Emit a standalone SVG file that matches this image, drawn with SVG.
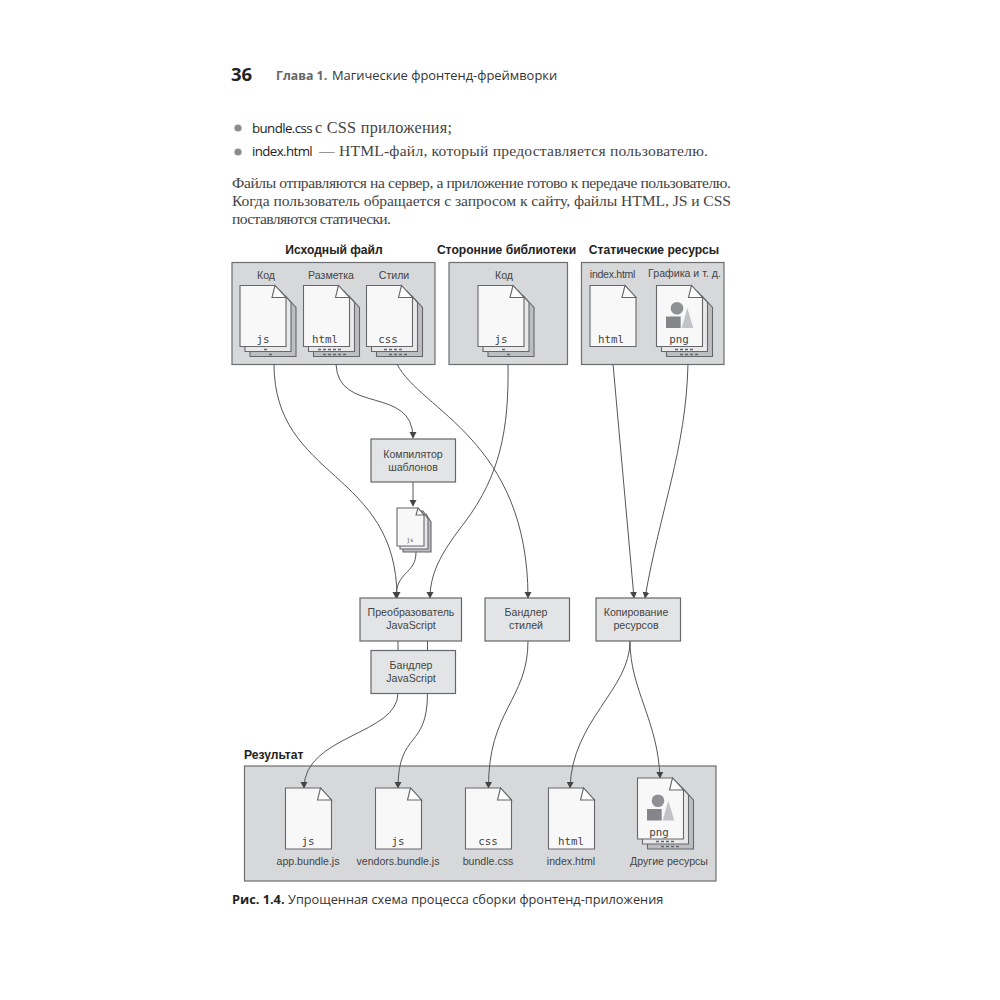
<svg xmlns="http://www.w3.org/2000/svg" xmlns:xlink="http://www.w3.org/1999/xlink" width="1000" height="1000" viewBox="0 0 1000 1000">
<style>
text{font-family:"Liberation Sans",Arial,sans-serif;fill:#333}
.panel{fill:#d7d8da;stroke:#6d6e70;stroke-width:1.2}
.box{fill:#e3e4e5;stroke:#66676a;stroke-width:1.2}
.lbl{font-size:10.6px;text-anchor:middle;fill:#444}
.head{font-size:12.1px;font-weight:700;text-anchor:middle;fill:#222}
text.mono{font-family:"DejaVu Sans Mono","Liberation Mono",monospace;font-size:10.8px;text-anchor:middle;fill:#444}
.tick{fill:none;stroke:#66676a;stroke-width:1.5;stroke-dasharray:3 2}
.conn{fill:none;stroke:#55565a;stroke-width:1;marker-end:url(#a)}
.plain{fill:none;stroke:#55565a;stroke-width:1}
text.serif{font-family:"Liberation Serif",serif;font-size:15.6px;fill:#444}
text.os{font-family:"Open Sans","Noto Sans",sans-serif}
.f{fill:#f8f8f9;stroke:#66676a;stroke-width:1.1}
.b{fill:#bdbec1;stroke:#66676a;stroke-width:1.1}
.m{fill:#e9e9ea;stroke:#66676a;stroke-width:1.1}
.fold{fill:#fff;stroke:#66676a;stroke-width:1.1}
</style>
<defs>
<marker id="a" markerWidth="7" markerHeight="8" refX="6" refY="4" orient="auto" markerUnits="userSpaceOnUse"><path d="M0 .5L6.500 4L0 7.500Z" fill="#444"/></marker>
<g id="sheet"><path class="f" d="M0 0H35L46 12V61H0Z"/><path class="fold" d="M35 0L46 12H32Z"/></g>
<g id="stack">
<path class="b" d="M10 10H45L56 22V71H10Z"/>
<path class="m" d="M5 5H40L51 17V66H5Z"/>
<use xlink:href="#sheet"/>
</g>
<g id="shapes"><circle cx="20.500" cy="22.800" r="6.300" fill="#8f9094"/><rect x="9.500" y="31" width="14.700" height="11.500" fill="#85868a"/><path d="M25.200 42.500H36.800L30.800 22.500Z" fill="#c2c3c6"/></g>
</defs>

<g id="page-header">
<text class="os" x="231" y="81" font-size="18.5" font-weight="700" style="fill:#222">36</text>
<text class="os" x="276" y="80" font-size="12.300" font-weight="700" style="fill:#666">Глава 1.</text>
<text class="os" x="332" y="80" font-size="12.900" style="fill:#333">Магические фронтенд-фреймворки</text>
</g>
<g id="body-text">
<circle cx="238" cy="128" r="3.600" fill="#8a8b8e"/>
<circle cx="238" cy="152" r="3.600" fill="#8a8b8e"/>
<text class="os" x="252" y="133" style="font-size:13.300px;fill:#222;letter-spacing:-.6px">bundle.css</text>
<text class="serif" x="315" y="133" textLength="137" lengthAdjust="spacing" style="font-size:16.200px">с CSS приложения;</text>
<text class="os" x="252" y="156" style="font-size:13.300px;fill:#222;letter-spacing:-.6px">index.html</text>
<text class="serif" x="319" y="156" textLength="389" lengthAdjust="spacing">— HTML-файл, который предоставляется пользователю.</text>
<text class="serif" x="232" y="188" textLength="499" lengthAdjust="spacing">Файлы отправляются на сервер, а приложение готово к передаче пользователю.</text>
<text class="serif" x="232" y="206" textLength="499" lengthAdjust="spacing">Когда пользователь обращается с запросом к сайту, файлы HTML, JS и CSS</text>
<text class="serif" x="232" y="224" textLength="159" lengthAdjust="spacing">поставляются статически.</text>
</g>

<g id="panel-source">
<text class="head" x="334" y="254">Исходный файл</text>
<rect class="panel" x="232" y="262.500" width="203" height="102"/>
<text class="lbl" x="266" y="279">Код</text><text class="lbl" x="331" y="279">Разметка</text><text class="lbl" x="394" y="279">Стили</text>
<g id="src-js"><use xlink:href="#stack" x="240" y="285.500"/><path class="tick" d="M264 349.500h5M269 354.500h5"/><text class="mono" x="263" y="343">js</text></g>
<g id="src-html"><use xlink:href="#stack" x="303.500" y="285.500"/><path class="tick" d="M318 349.500h24M323 354.500h24"/><text class="mono" x="325" y="343">html</text></g>
<g id="src-css"><use xlink:href="#stack" x="366.500" y="285.500"/><path class="tick" d="M384 349.500h18M389 354.500h18"/><text class="mono" x="388" y="343">css</text></g>
</g>
<g id="panel-vendors">
<text class="head" x="506.500" y="254">Сторонние библиотеки</text>
<rect class="panel" x="449" y="262.500" width="118.500" height="102"/>
<text class="lbl" x="504" y="279">Код</text>
<use xlink:href="#stack" x="478" y="285.500"/><path class="tick" d="M502 349.500h5M507 354.500h5"/><text class="mono" x="501" y="343">js</text>
</g>
<g id="panel-static">
<text class="head" x="654" y="254">Статические ресурсы</text>
<rect class="panel" x="581.500" y="262.500" width="142.500" height="102"/>
<text class="lbl" x="612.500" y="278" style="letter-spacing:-.3px">index.html</text><text class="lbl" x="684.500" y="277">Графика и т. д.</text>
<use xlink:href="#sheet" x="590" y="285.500"/><text class="mono" x="611" y="343">html</text>
<use xlink:href="#stack" x="656.500" y="285.500"/><path class="tick" d="M675 349.500h18M680 354.500h18"/><use xlink:href="#shapes" x="656.500" y="285.500"/><text class="mono" x="679" y="343">png</text>
</g>

<g id="panel-result">
<text class="head" x="244" y="759" style="text-anchor:start">Результат</text>
<rect class="panel" x="244.500" y="766" width="471.500" height="115"/>
</g>

<g id="connectors">
<path class="conn" d="M274 364C274 480 397 470 397 598"/>
<path class="conn" d="M336 364C338 415 413 385 413 438"/>
<path class="conn" d="M397 364C420 410 528 440 528 598"/>
<path class="conn" d="M508 364C509 430 500 475 465 522C445 548 430 570 430 598"/>
<path class="conn" d="M613 364L634 598"/>
<path class="conn" d="M688 364C686 450 660 510 645 598"/>
<path class="conn" d="M413 482V506"/>
<path class="conn" d="M416 552C416 575 396 570 396 598"/>
<path class="plain" d="M398 641V650M427.500 641V650"/>
<path class="conn" d="M398 693C398 735 304 735 304 788"/>
<path class="conn" d="M427.500 693C427.500 750 398 730 398 788"/>
<path class="conn" d="M528 641C528 700 488 710 488.500 788"/>
<path class="conn" d="M630 641C630 690 572 720 570 788"/>
<path class="conn" d="M630 641C630 690 658 720 660 778"/>
</g>

<g id="compiler"><rect class="box" x="371" y="439" width="84.500" height="43"/><text class="lbl" x="413" y="458">Компилятор</text><text class="lbl" x="413" y="471">шаблонов</text></g>
<g id="compiled-js">
<path class="b" d="M403 514H426L431 522V552H403Z"/>
<path class="m" d="M400 511H423L428 519V549H400Z"/>
<path class="f" d="M397 508H418L424 515V546H397Z"/><path class="fold" d="M418 508L424 515H416Z"/>
<text x="410" y="542" style="font-family:'DejaVu Sans Mono',monospace;font-size:6px;text-anchor:middle;fill:#555">js</text>
</g>
<g id="transformer"><rect class="box" x="360" y="598" width="101.500" height="43"/><text class="lbl" x="411" y="616">Преобразователь</text><text class="lbl" x="411" y="629">JavaScript</text></g>
<g id="js-bundler"><rect class="box" x="371" y="650.500" width="84.500" height="43"/><text class="lbl" x="411" y="669">Бандлер</text><text class="lbl" x="411" y="682">JavaScript</text></g>
<g id="style-bundler"><rect class="box" x="485" y="598" width="84.500" height="43"/><text class="lbl" x="526" y="616">Бандлер</text><text class="lbl" x="526" y="629">стилей</text></g>
<g id="copy-assets"><rect class="box" x="596" y="598" width="84.500" height="43"/><text class="lbl" x="636" y="616">Копирование</text><text class="lbl" x="636" y="629">ресурсов</text></g>

<g id="app-bundle"><use xlink:href="#sheet" x="285.500" y="788"/><text class="mono" x="308" y="845">js</text><text class="lbl" x="308" y="865">app.bundle.js</text></g>
<g id="vendors-bundle"><use xlink:href="#sheet" x="375.500" y="788"/><text class="mono" x="398" y="845">js</text><text class="lbl" x="398" y="865">vendors.bundle.js</text></g>
<g id="bundle-css"><use xlink:href="#sheet" x="465.500" y="788"/><text class="mono" x="488" y="845">css</text><text class="lbl" x="488" y="865">bundle.css</text></g>
<g id="index-html"><use xlink:href="#sheet" x="548.500" y="788"/><text class="mono" x="571" y="845">html</text><text class="lbl" x="571" y="865">index.html</text></g>
<g id="other-assets">
<use xlink:href="#stack" x="637.500" y="778"/><path class="tick" d="M656 841.500h18M661 846.500h18"/><use xlink:href="#shapes" x="637.500" y="778"/><text class="mono" x="659" y="836">png</text>
<text class="lbl" x="669" y="865">Другие ресурсы</text>
</g>

<g id="caption">
<text class="os" x="232" y="904" style="font-size:12.750px;font-weight:700;fill:#222">Рис. 1.4.</text>
<text class="os" x="288" y="904" style="font-size:12.750px;fill:#333">Упрощенная схема процесса сборки фронтенд-приложения</text>
</g>
</svg>
